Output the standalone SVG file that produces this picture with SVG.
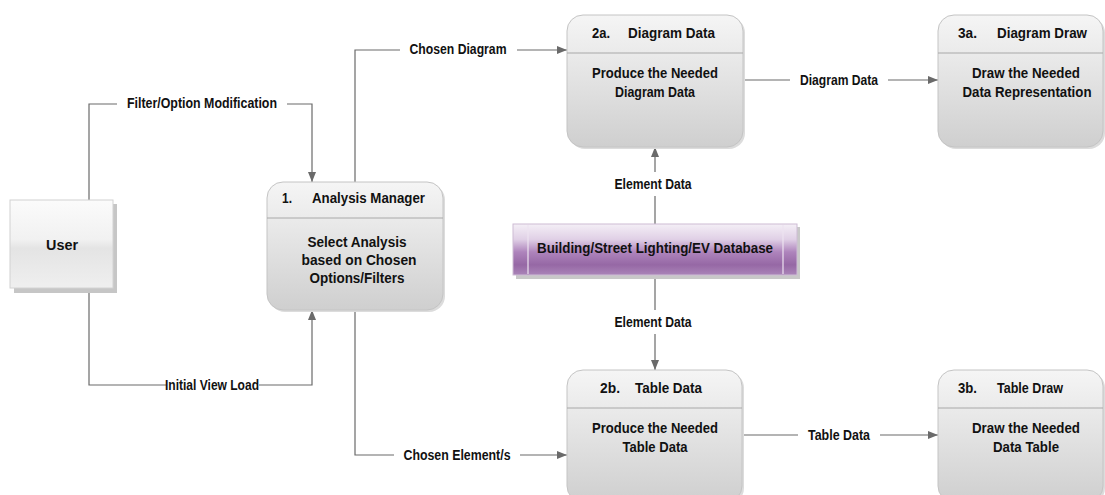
<svg xmlns="http://www.w3.org/2000/svg" width="1105" height="495" viewBox="0 0 1105 495">
  <defs>
    <linearGradient id="gProc" x1="0" y1="0" x2="0" y2="1">
      <stop offset="0" stop-color="#f5f5f5"/>
      <stop offset="0.3" stop-color="#eaeaea"/>
      <stop offset="1" stop-color="#cfcfcf"/>
    </linearGradient>
    <linearGradient id="gUser" x1="0" y1="0" x2="0" y2="1">
      <stop offset="0" stop-color="#fbfbfb"/>
      <stop offset="0.45" stop-color="#f1f1f1"/>
      <stop offset="0.55" stop-color="#e4e4e4"/>
      <stop offset="1" stop-color="#efefef"/>
    </linearGradient>
    <linearGradient id="gDb" x1="0" y1="0" x2="0" y2="1">
      <stop offset="0" stop-color="#f4eff6"/>
      <stop offset="0.3" stop-color="#e0d0e6"/>
      <stop offset="0.55" stop-color="#ae84bc"/>
      <stop offset="0.8" stop-color="#9668a5"/>
      <stop offset="1" stop-color="#aa84b8"/>
    </linearGradient>
    <marker id="arrow" markerUnits="userSpaceOnUse" markerWidth="10" markerHeight="10" viewBox="0 0 10 10" refX="10" refY="5" orient="auto">
      <path d="M0,1 L10,5 L0,9 Z" fill="#6a6a6a"/>
    </marker>
  </defs>
  <style>
    .lbl { font-family: "Liberation Sans", Arial, sans-serif; font-weight: bold; font-size: 14px; fill: #111; text-anchor: middle; dominant-baseline: central; }
    .lft { text-anchor: start; }
    .proc { fill: url(#gProc); stroke: #c4c4c4; stroke-width: 1; }
    .shadow { fill: #dcdcdc; }
    .div { stroke: #a8a8a8; stroke-width: 1; }
    .conn { fill: none; stroke: #6a6a6a; stroke-width: 1.2; }
  </style>

  <rect width="1105" height="495" fill="#ffffff"/>

  <!-- connectors -->
  <g id="connectors">
    <path class="conn" d="M89,200 V104 H117 M287,104 H312 V182" marker-end="url(#arrow)"/>
    <path class="conn" d="M89,290 V385 H166 M259,385 H312 V310" marker-end="url(#arrow)"/>
    <path class="conn" d="M355,182 V50 H400 M517,50 H567" marker-end="url(#arrow)"/>
    <path class="conn" d="M355,310 V455 H394 M520,455 H567" marker-end="url(#arrow)"/>
    <path class="conn" d="M743,80 H790 M888,80 H938" marker-end="url(#arrow)"/>
    <path class="conn" d="M742,435 H798 M880,435 H938" marker-end="url(#arrow)"/>
    <path class="conn" d="M655,224 V196 M655,172 V147" marker-end="url(#arrow)"/>
    <path class="conn" d="M655,275 V310 M655,334 V370" marker-end="url(#arrow)"/>

    <text class="lbl" x="202" y="103" textLength="150" lengthAdjust="spacingAndGlyphs">Filter/Option Modification</text>
    <text class="lbl" x="212" y="385" textLength="94" lengthAdjust="spacingAndGlyphs">Initial View Load</text>
    <text class="lbl" x="458" y="49" textLength="97" lengthAdjust="spacingAndGlyphs">Chosen Diagram</text>
    <text class="lbl" x="457" y="455" textLength="107" lengthAdjust="spacingAndGlyphs">Chosen Element/s</text>
    <text class="lbl" x="839" y="80" textLength="78" lengthAdjust="spacingAndGlyphs">Diagram Data</text>
    <text class="lbl" x="839" y="435" textLength="62" lengthAdjust="spacingAndGlyphs">Table Data</text>
    <text class="lbl" x="653" y="184" textLength="77" lengthAdjust="spacingAndGlyphs">Element Data</text>
    <text class="lbl" x="653" y="322" textLength="77" lengthAdjust="spacingAndGlyphs">Element Data</text>
  </g>

  <!-- external entity -->
  <g id="user">
    <rect x="14" y="204" width="103" height="89" fill="#c6c6c6"/>
    <rect x="10" y="200" width="103" height="88" fill="url(#gUser)" stroke="#d2d2d2"/>
    <text class="lbl" x="62" y="245" textLength="32" lengthAdjust="spacingAndGlyphs">User</text>
  </g>

  <!-- process 1 -->
  <g id="analysis-manager">
    <rect class="shadow" x="269" y="184" width="176" height="128" rx="16"/>
    <rect class="proc" x="267" y="182" width="176" height="128" rx="16"/>
    <line class="div" x1="267" y1="218" x2="443" y2="218"/>
    <text class="lbl lft" x="282" y="198" textLength="10" lengthAdjust="spacingAndGlyphs">1.</text>
    <text class="lbl lft" x="312" y="198" textLength="113" lengthAdjust="spacingAndGlyphs">Analysis Manager</text>
    <text class="lbl" x="357" y="242" textLength="99" lengthAdjust="spacingAndGlyphs">Select Analysis</text>
    <text class="lbl" x="359" y="260" textLength="115" lengthAdjust="spacingAndGlyphs">based on Chosen</text>
    <text class="lbl" x="357" y="278" textLength="95" lengthAdjust="spacingAndGlyphs">Options/Filters</text>
  </g>

  <!-- process 2a -->
  <g id="diagram-data">
    <rect class="shadow" x="569" y="17" width="176" height="132" rx="16"/>
    <rect class="proc" x="567" y="15" width="176" height="132" rx="16"/>
    <line class="div" x1="567" y1="53" x2="743" y2="53"/>
    <text class="lbl lft" x="592" y="33" textLength="18" lengthAdjust="spacingAndGlyphs">2a.</text>
    <text class="lbl lft" x="628" y="33" textLength="87" lengthAdjust="spacingAndGlyphs">Diagram Data</text>
    <text class="lbl" x="655" y="73" textLength="126" lengthAdjust="spacingAndGlyphs">Produce the Needed</text>
    <text class="lbl" x="655" y="92" textLength="80" lengthAdjust="spacingAndGlyphs">Diagram Data</text>
  </g>

  <!-- process 3a -->
  <g id="diagram-draw">
    <rect class="shadow" x="940" y="17" width="165" height="132" rx="16"/>
    <rect class="proc" x="938" y="15" width="165" height="132" rx="16"/>
    <line class="div" x1="938" y1="53" x2="1103" y2="53"/>
    <text class="lbl lft" x="958" y="33" textLength="19" lengthAdjust="spacingAndGlyphs">3a.</text>
    <text class="lbl lft" x="997" y="33" textLength="90" lengthAdjust="spacingAndGlyphs">Diagram Draw</text>
    <text class="lbl" x="1026" y="73" textLength="108" lengthAdjust="spacingAndGlyphs">Draw the Needed</text>
    <text class="lbl" x="1027" y="92" textLength="129" lengthAdjust="spacingAndGlyphs">Data Representation</text>
  </g>

  <!-- data store -->
  <g id="database">
    <rect x="516" y="227" width="284" height="52" fill="#c8c8c8"/>
    <rect x="513" y="224" width="284" height="51" fill="url(#gDb)" stroke="#cdbcd4"/>
    <line x1="528" y1="225" x2="528" y2="274" stroke="#ede3f0" stroke-width="1.2"/>
    <line x1="783" y1="225" x2="783" y2="274" stroke="#ede3f0" stroke-width="1.2"/>
    <text class="lbl" x="655" y="248" textLength="236" lengthAdjust="spacingAndGlyphs">Building/Street Lighting/EV Database</text>
  </g>

  <!-- process 2b -->
  <g id="table-data">
    <rect class="shadow" x="569" y="372" width="175" height="132" rx="16"/>
    <rect class="proc" x="567" y="370" width="175" height="132" rx="16"/>
    <line class="div" x1="567" y1="408" x2="742" y2="408"/>
    <text class="lbl lft" x="600" y="388" textLength="20" lengthAdjust="spacingAndGlyphs">2b.</text>
    <text class="lbl lft" x="635" y="388" textLength="67" lengthAdjust="spacingAndGlyphs">Table Data</text>
    <text class="lbl" x="655" y="428" textLength="126" lengthAdjust="spacingAndGlyphs">Produce the Needed</text>
    <text class="lbl" x="655" y="447" textLength="65" lengthAdjust="spacingAndGlyphs">Table Data</text>
  </g>

  <!-- process 3b -->
  <g id="table-draw">
    <rect class="shadow" x="940" y="372" width="165" height="132" rx="16"/>
    <rect class="proc" x="938" y="370" width="165" height="132" rx="16"/>
    <line class="div" x1="938" y1="408" x2="1103" y2="408"/>
    <text class="lbl lft" x="958" y="388" textLength="19" lengthAdjust="spacingAndGlyphs">3b.</text>
    <text class="lbl lft" x="997" y="388" textLength="66" lengthAdjust="spacingAndGlyphs">Table Draw</text>
    <text class="lbl" x="1026" y="428" textLength="108" lengthAdjust="spacingAndGlyphs">Draw the Needed</text>
    <text class="lbl" x="1026" y="447" textLength="66" lengthAdjust="spacingAndGlyphs">Data Table</text>
  </g>
</svg>
